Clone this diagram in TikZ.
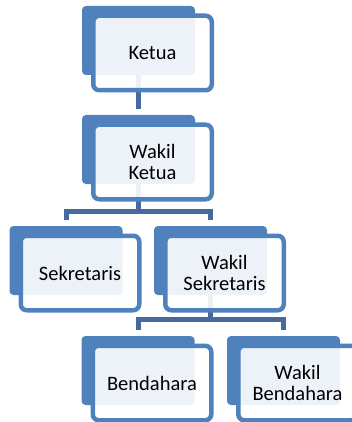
\documentclass[tikz,border=0pt]{standalone}
\usepackage{fontspec}
\setmainfont{Carlito}
\usetikzlibrary{positioning, backgrounds}
\definecolor{accent}{RGB}{79,129,189}
\definecolor{linkblue}{RGB}{70,106,158}

\begin{document}
\begin{tikzpicture}[every node/.append style={align=center}, card/.style={draw=accent,line width=4.5pt,fill=white,fill opacity=0.9,text opacity=1,rounded corners=6pt,minimum width=118.5pt,minimum height=74.5pt,inner sep=0pt,font=\fontsize{20.5}{21.5}\selectfont}, tab/.style={fill=accent,rounded corners=4pt,minimum width=113pt,minimum height=69pt,inner sep=0pt}, link/.style={draw=linkblue,line width=5pt,shorten >=6pt}]
    \useasboundingbox (0,0) rectangle (351pt,-422pt);
    \node[card] (ketua) at (152.5pt,-53pt) {Ketua};
    \node[card, below= 30pt of ketua] (wketua) {Wakil\\Ketua};
    \node[card, below= 32pt of wketua, xshift=-72.5pt] (sekr) {Sekretaris};
    \node[card, below= 32pt of wketua, xshift=72pt] (wsekr) {Wakil\\Sekretaris};
    \node[card, below= 31pt of wsekr, xshift=-72.5pt] (bend) {Bendahara};
    \node[card, below= 31pt of wsekr, xshift=73pt] (wbend) {Wakil\\Bendahara};
    \begin{scope}[on background layer]
        \foreach \n in {ketua, wketua, sekr, wsekr, bend, wbend}
            \node[tab] (\n-tab) at ([shift={(-14pt,12.5pt)}]\n) {};
        \draw[link] (ketua-tab.south) -- (wketua-tab.north);
        \draw[link] (wketua-tab.south) -- ++(0,-27pt) -| (sekr-tab.north);
        \draw[link] (wketua-tab.south) -- ++(0,-27pt) -| (wsekr-tab.north);
        \draw[link] (wsekr-tab.south) -- ++(0,-24.5pt) -| (bend-tab.north);
        \draw[link] (wsekr-tab.south) -- ++(0,-24.5pt) -| (wbend-tab.north);
    \end{scope}
\end{tikzpicture}
\end{document}
